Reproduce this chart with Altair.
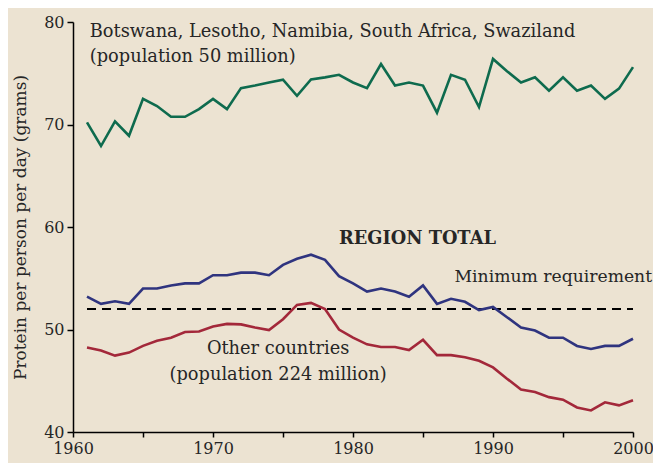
import altair as alt
import pandas as pd

years = list(range(1961, 2001))
southern = [70.2, 67.9, 70.3, 68.9, 72.5, 71.8, 70.75, 70.75, 71.5, 72.5,
            71.5, 73.55, 73.8, 74.1, 74.37, 72.8, 74.4, 74.6, 74.85, 74.1,
            73.55, 75.9, 73.8, 74.1, 73.8, 71.15, 74.85, 74.37, 71.7, 76.4,
            75.2, 74.1, 74.6, 73.3, 74.6, 73.3, 73.8, 72.5, 73.5, 75.6]
region_total = [53.2, 52.5, 52.75, 52.5, 54.0, 54.0, 54.3, 54.5, 54.5, 55.3,
                55.3, 55.55, 55.55, 55.3, 56.3, 56.9, 57.3, 56.8, 55.2, 54.5,
                53.7, 54.0, 53.7, 53.2, 54.3, 52.5, 53.0, 52.7, 51.9, 52.2,
                51.2, 50.2, 49.9, 49.2, 49.2, 48.4, 48.1, 48.4, 48.4, 49.1]
other = [48.24, 47.95, 47.45, 47.75, 48.4, 48.9, 49.2, 49.75, 49.8, 50.3,
         50.55, 50.5, 50.2, 49.95, 51.0, 52.4, 52.6, 52.0, 50.0, 49.2,
         48.55, 48.3, 48.3, 48.0, 49.0, 47.5, 47.5, 47.3, 46.95, 46.3,
         45.2, 44.15, 43.9, 43.4, 43.15, 42.4, 42.1, 42.9, 42.6, 43.1]
min_req = 52
min_years = [1961, 2000]

series_names = ["southern", "total", "other"]
series_colors = ["#0E6B4E", "#2F347F", "#A3283A"]

label_text = ["Botswana, Lesotho, Namibia, South Africa, Swaziland",
              "(population 50 million)",
              "REGION TOTAL",
              "Minimum requirement",
              "Other countries",
              "(population 224 million)"]
label_x = [1961.2, 1961.2, 1984.6, 1987.25, 1974.65, 1974.65]
label_y = [79.0, 76.6, 58.8, 55.1, 48.1, 45.6]
label_align = ["left", "left", "center", "left", "center", "center"]
label_weight = ["normal", "normal", "bold", "normal", "normal", "normal"]
label_size = [17.8, 17.8, 17.8, 17.2, 17.8, 17.8]

FONT = "DejaVu Serif"
TXT = "#262626"

rows = []
for name, vals in zip(series_names, [southern, region_total, other]):
    for y, v in zip(years, vals):
        rows.append({"year": y, "value": v, "series": name})
df = pd.DataFrame(rows)

xscale = alt.Scale(domain=[1960, 2000], nice=False, zero=False)
yscale = alt.Scale(domain=[40, 80], nice=False, zero=False)

xaxis = alt.Axis(values=list(range(1960, 2001, 5)),
                 labelExpr="datum.value % 10 == 0 ? datum.value : ''",
                 title=None, grid=False, domainColor="black", tickColor="black",
                 tickSize=5, domainWidth=1.5, tickWidth=1.5, labelFlush=False,
                 labelFont=FONT, labelFontSize=16, labelColor=TXT, labelPadding=3)
yaxis = alt.Axis(values=[40, 50, 60, 70, 80], title="Protein per person per day (grams)",
                 grid=False, domainColor="black", tickColor="black",
                 tickSize=6, domainWidth=1.5, tickWidth=1.5, labelFlush=False,
                 labelFont=FONT, labelFontSize=16, labelColor=TXT, labelPadding=3,
                 titleFont=FONT, titleFontSize=17, titleFontWeight="normal",
                 titleColor=TXT, titlePadding=14)

lines = alt.Chart(df).mark_line(strokeWidth=2.6).encode(
    x=alt.X("year:Q", scale=xscale, axis=xaxis),
    y=alt.Y("value:Q", scale=yscale, axis=yaxis),
    color=alt.Color("series:N", scale=alt.Scale(domain=series_names, range=series_colors), legend=None),
)

dash_df = pd.DataFrame({"year": min_years, "value": [min_req] * len(min_years)})
dash = alt.Chart(dash_df).mark_line(color="black", strokeWidth=2, strokeDash=[9, 6]).encode(
    x=alt.X("year:Q", scale=xscale),
    y=alt.Y("value:Q", scale=yscale),
)

text_layers = []
for t, x, y, a, w, s in zip(label_text, label_x, label_y, label_align, label_weight, label_size):
    tdf = pd.DataFrame({"year": [x], "value": [y], "t": [t]})
    text_layers.append(
        alt.Chart(tdf).mark_text(align=a, baseline="middle", font=FONT, fontSize=s,
                                 fontWeight=w, color=TXT).encode(
            x=alt.X("year:Q", scale=xscale),
            y=alt.Y("value:Q", scale=yscale),
            text="t:N",
        )
    )

chart = alt.layer(dash, lines, *text_layers).properties(
    width=560, height=410,
    autosize=alt.AutoSizeParams(type="none"),
    padding={"left": 65, "top": 14, "right": 20, "bottom": 31},
    background="#ECE3D2",
).configure_view(stroke=None)

chart.save("out.html", embed_options={"renderer": "svg", "actions": False})
